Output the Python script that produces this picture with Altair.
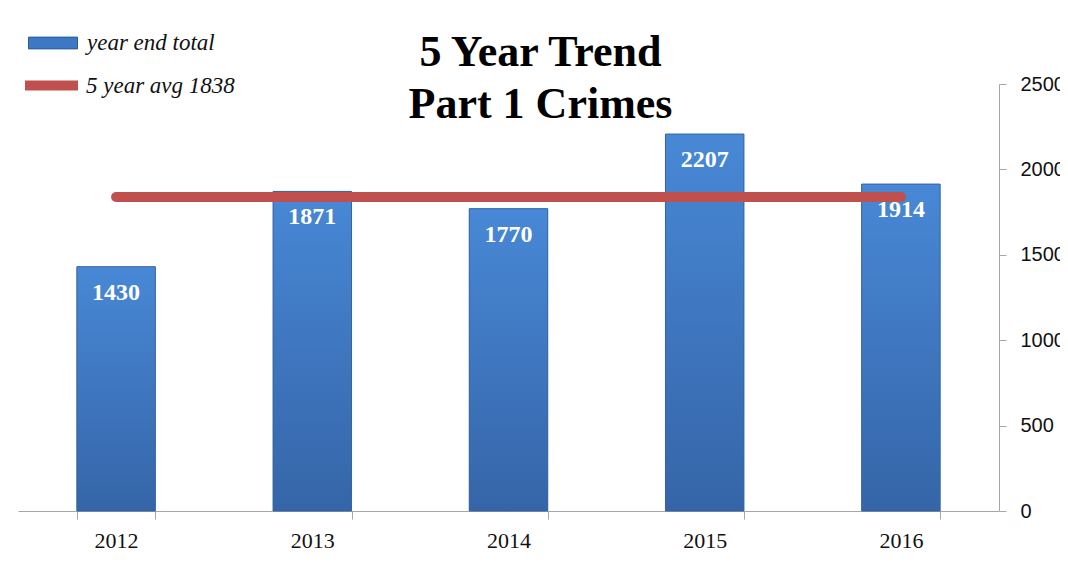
import altair as alt
import pandas as pd

years = ["2012", "2013", "2014", "2015", "2016"]
totals = [1430, 1871, 1770, 2207, 1914]
avg_values = [1838, 1838, 1838, 1838, 1838]
bar_series = "year end total"
avg_series = "5 year avg 1838"
y_ticks = [0, 500, 1000, 1500, 2000, 2500]

df = pd.DataFrame({
    "year": years,
    "total": totals,
    "avg": avg_values,
    "bar_series": [bar_series] * len(years),
    "avg_series": [avg_series] * len(years),
})

x_enc = alt.X(
    "year:N",
    sort=years,
    scale=alt.Scale(paddingInner=0.6, paddingOuter=0.3),
    axis=alt.Axis(
        title=None, labelAngle=0, labelFont="Liberation Serif", labelFontSize=22,
        labelColor="#111111", labelPadding=11, domainColor="#a6a6a6",
        tickColor="#a6a6a6", tickSize=8, tickBand="extent",
    ),
)
y_scale = alt.Scale(domain=[0, 2500], nice=False)
y_axis = alt.Axis(
    title=None, orient="right", values=y_ticks, grid=False, format="d",
    labelFont="Liberation Sans", labelFontSize=20, labelColor="#111111",
    labelPadding=14, domainColor="#a6a6a6", tickColor="#a6a6a6", tickSize=7,
)

base = alt.Chart(df)

bars_legend = base.mark_bar().encode(
    x=x_enc,
    y=alt.Y("total:Q", scale=y_scale, axis=y_axis),
    fill=alt.Fill(
        "bar_series:N",
        scale=alt.Scale(domain=[bar_series], range=["#3d78c4"]),
        legend=alt.Legend(
            title=None, orient="none", legendX=10, legendY=-66, padding=0,
            symbolType="M-1,-0.24H1V0.24H-1Z", symbolSize=2401,
            symbolStrokeColor="#2a5a98", symbolStrokeWidth=1, labelOffset=9,
        ),
    ),
)

grad = alt.LinearGradient(
    gradient="linear", x1=0, y1=0, x2=0, y2=1,
    stops=[
        alt.GradientStop(offset=0, color="#4888d6"),
        alt.GradientStop(offset=1, color="#3565a8"),
    ],
)
bars_grad = base.mark_bar(color=grad, stroke="#35659f", strokeWidth=1).encode(
    x=alt.X("year:N", sort=years),
    y=alt.Y("total:Q"),
)

avg_line = base.mark_line(strokeWidth=10, strokeCap="round").encode(
    x=alt.X("year:N", sort=years),
    y=alt.Y("avg:Q"),
    stroke=alt.Stroke(
        "avg_series:N",
        scale=alt.Scale(domain=[avg_series], range=["#c0504d"]),
        legend=alt.Legend(
            title=None, orient="none", legendX=2, legendY=-30, padding=0,
            symbolType="stroke", symbolSize=2809, symbolStrokeWidth=10,
            labelOffset=3,
        ),
    ),
)

labels = base.mark_text(
    color="white", font="Liberation Serif", fontWeight="bold", fontSize=24,
    baseline="middle", dy=26,
).encode(
    x=alt.X("year:N", sort=years),
    y=alt.Y("total:Q"),
    text=alt.Text("total:Q"),
)

chart = alt.layer(bars_legend, bars_grad, avg_line, labels).properties(
    width=981,
    height=427,
    autosize=alt.AutoSizeParams(type="none"),
    padding={"left": 10, "top": 76, "right": 61, "bottom": 52},
    background="white",
    title=alt.TitleParams(
        text=["5 Year Trend", "Part 1 Crimes"],
        font="Liberation Serif", fontSize=44, fontWeight="bold", color="black",
        lineHeight=52, anchor="middle", dx=32, offset=-109,
    ),
).configure_view(strokeWidth=0, stroke="transparent").configure_legend(
    labelFont="Liberation Serif", labelFontStyle="italic", labelFontSize=23,
    labelColor="#111111", rowPadding=0,
)

chart.save("out.html", embed_options={"renderer": "svg", "actions": False})
